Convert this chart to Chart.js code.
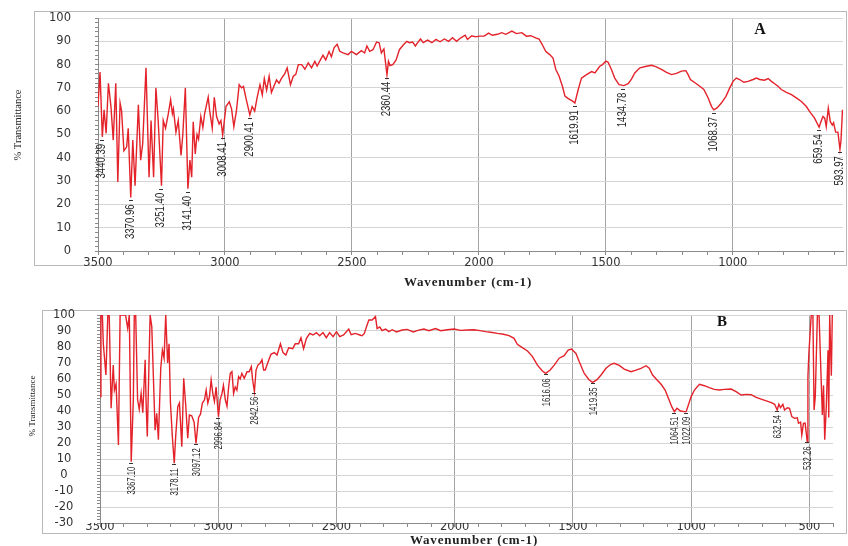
<!DOCTYPE html>
<html><head><meta charset="utf-8">
<script src="https://cdn.jsdelivr.net/npm/chart.js@4.4.1/dist/chart.umd.min.js"></script>
<style>
html,body{margin:0;padding:0;background:#fff;width:848px;height:546px;overflow:hidden;}
canvas{position:absolute;left:0;}
#cA{top:0;} #cB{top:296px;}
</style></head><body>
<canvas id="cA" width="848" height="296"></canvas>
<canvas id="cB" width="848" height="250"></canvas>
<script>
// ---------- Spectrum A ----------
const wavenumberA = [
 3500,3492,3483,3476,3468,3459,3449,3440,3430,3422,
 3413,3407,3398,3387,3381,3371,3363,3354,3341,3332,
 3324,3311,3299,3291,3281,3272,3263,3250,3243,3234,
 3223,3214,3207,3203,3193,3184,3173,3166,3156,3146,
 3138,3131,3125,3117,3110,3104,3095,3087,3080,3066,
 3060,3050,3042,3033,3023,3016,3009,2996,2983,2974,
 2965,2955,2944,2935,2927,2916,2902,2893,2883,2873,
 2862,2853,2845,2836,2826,2817,2808,2797,2787,2778,
 2765,2755,2742,2731,2721,2711,2698,2685,2672,2659,
 2646,2637,2624,2614,2603,2590,2581,2570,2558,2548,
 2535,2515,2502,2482,2463,2450,2441,2430,2417,2403,
 2393,2384,2374,2362,2356,2350,2339,2326,2313,2297,
 2284,2274,2261,2250,2241,2230,2219,2202,2185,2169,
 2153,2136,2119,2104,2088,2071,2054,2045,2028,2012,
 1999,1979,1962,1947,1927,1910,1894,1870,1852,1831,
 1813,1796,1776,1763,1750,1737,1721,1708,1697,1684,
 1671,1661,1648,1632,1622,1609,1596,1576,1556,1543,
 1524,1513,1500,1491,1478,1465,1448,1429,1412,1399,
 1386,1366,1340,1320,1301,1281,1261,1241,1222,1202,
 1185,1176,1167,1149,1130,1114,1097,1084,1075,1062,
 1045,1027,1012,999,986,973,957,940,920,907,
 894,875,861,848,835,822,809,789,769,750,
 730,711,695,678,660,655,645,638,632,624,
 616,608,603,595,586,578,574,568];
const transmittanceA = [
 62,76.8,49,60.6,50.5,72,62,47.6,72,29.6,
 63.5,60,43,44.7,52.7,23,47.6,28,62.8,39,
 46,78.6,31.7,56,31.7,70,56,28,56,52.7,
 59,65,59,61,51,56,41,50,70,26.7,
 39,31.7,55.5,41.7,50,48,57.7,53,59,66,
 60,52.7,66,57.7,54.5,56,49.8,62,64,61,
 53.4,60,71.4,70,70.6,65,58.4,62,60,66,
 71.4,67,74,69,75,68,70.5,73.4,72,74,
 76,78.6,71.4,75,75.8,80,80,78,80.7,78.6,
 81.4,79.4,82,84,82,85.6,83.4,87.3,88.7,85.7,
 85,84.3,85.7,84.3,86,85,88,85.7,86.4,89.7,
 89.4,85,86.7,75.7,81.4,79.6,80,82,86.4,88.5,
 90,89.4,89.7,88,89.4,91,89.4,90.5,89.4,90.8,
 89.8,91,90,91.5,90,91.5,92.6,90.8,92.4,91.9,
 92.2,92.2,93.5,92.6,93,93.7,93,94.4,93.3,93.7,
 92.2,92.4,91.5,91,88.5,85.7,84.3,82.8,77.9,75,
 70.7,66.5,65.4,64.4,63.5,69.2,74.2,75.7,77,76.4,
 79.3,80,81.5,81,77.9,74.2,71.4,71,71.8,73.8,
 76.4,78.6,79.3,79.7,79,77.9,76.7,75.7,76.2,77.2,
 77.4,75.7,73.6,72.2,70.7,69.3,65.7,62.1,60.6,61.4,
 63.5,66.4,70,72.8,74.2,73.6,72.4,72.8,73.6,74.2,
 73.6,73.3,74,72.8,71.8,70.7,69.3,68.1,67.1,65.7,
 64.2,62.1,59.5,57,53.1,54.8,57.7,57,53.4,61.3,
 55.5,54,55,51,51,43.7,47.3,60.6];
const peakTextA = ['3440.39','3370.96','3251.40','3141.40','3008.41','2900.41','2360.44','1619.91','1434.78','1068.37','659.54','593.97'];
const peakPosA  = [3483,3371,3250,3146,3009,2902,2362,1622,1432,1075,660,578];
const peakTA    = [49,23,28,26.7,49.8,58.4,75.7,63.5,71,60.6,53.1,43.7];
const yTicksA = [0,100,10];

// ---------- Spectrum B ----------
const wavenumberB = [
 3500,3496,3490,3486,3475,3467,3461,3453,3444,3439,
 3432,3422,3415,3408,3401,3392,3383,3376,3368,3359,
 3355,3349,3341,3334,3326,3319,3309,3305,3300,3288,
 3281,3267,3260,3253,3243,3236,3229,3222,3214,3208,
 3202,3194,3186,3180,3171,3164,3154,3146,3137,3129,
 3122,3112,3102,3094,3083,3075,3067,3058,3051,3044,
 3037,3030,3023,3016,3009,2999,2992,2984,2978,2970,
 2963,2956,2949,2942,2935,2928,2921,2914,2907,2900,
 2890,2878,2869,2860,2855,2847,2840,2832,2822,2815,
 2808,2801,2794,2777,2763,2751,2737,2726,2714,2702,
 2685,2674,2660,2650,2639,2627,2613,2599,2585,2571,
 2557,2543,2529,2514,2500,2486,2470,2448,2438,2420,
 2401,2392,2382,2373,2363,2349,2335,2328,2317,2307,
 2292,2278,2264,2246,2222,2201,2175,2156,2130,2109,
 2081,2059,2031,2003,1975,1946,1918,1893,1869,1848,
 1819,1794,1770,1749,1735,1714,1692,1671,1650,1629,
 1615,1596,1579,1558,1537,1520,1506,1487,1473,1452,
 1431,1417,1399,1381,1360,1339,1325,1304,1283,1254,
 1233,1212,1191,1177,1163,1144,1127,1110,1096,1082,
 1071,1060,1045,1029,1021,1000,986,965,944,923,
 902,880,859,831,810,788,767,746,725,704,
 682,661,647,636,629,622,612,605,593,584,
 574,563,551,546,537,532,525,518,509,506,
 502,496,492,485,480,475,466,459,449,445,
 440,435,428,421,418,414,407,403];
const transmittanceB = [
 49,100,100,82,62.5,100,100,41.7,68.7,53,
 57,18.7,100,100,100,100,91.7,100,8.3,47,
 100,100,47,41,51,39,72,45,24,100,
 92.7,28,38.5,22,67,78,73,100,70,82,
 45,24,7.3,24,42.7,45,17.7,60.4,42.7,23,
 37.5,37,33,19.8,36,38,45,47,53,45,
 49,59.4,51,46,55,36.5,47,51,56,47,
 43,55,63.5,64.6,51,55,53,61.5,60,63.5,
 60.4,64.5,64.5,67.7,60,52,65.6,68.7,70,72,
 65.6,65.6,68.7,75.4,76.5,75,82,76.5,75,79.5,
 79,82,82,85.8,79,85.4,88.5,87.5,89,87,
 89,85.8,89,86.5,89.6,86.5,87.5,91.2,87.7,88.5,
 87.5,87,88.5,92.7,96.9,96.9,99,91.5,92.5,90.2,
 91.2,89.6,90.8,89.4,90.6,91,89.4,90.4,91.2,90.2,
 91.5,90.2,90.8,91.2,90.4,90.6,90.8,90.2,89.6,89.2,
 88.5,88,87.1,85.4,81.7,79.6,77.5,74,68.7,65,
 63.5,65.6,68.7,73,74.6,78,78.7,76,70.8,63.5,
 59.4,57.9,59.4,62.5,66.7,69.2,69.8,68.5,66.2,64.6,
 65.5,66.7,68.3,66.7,62.5,59.4,56.7,53.1,47.9,42.7,
 39.6,41.7,40,39.6,39.6,49,53.1,56.7,55.8,54.6,
 53.5,53.1,53.5,53.7,52.1,50,50.4,50.2,48.5,47.4,
 46.3,45.2,44.2,40.6,44.2,42.1,44.2,40.6,42,41.7,
 36.5,35.4,35.8,32.3,33,25,32.3,32.5,21,61.5,
 76,90.6,100,100,40.6,48.8,100,100,55,37.5,
 56,22,44,78,36,100,62,100];
const peakTextB = ['3367.10','3178.11','3097.12','2996.84','2842.56','1616.06','1419.35','1064.51','1022.09','632.54','532.26'];
const peakPosB  = [3368,3186,3094,2999,2847,1615,1417,1071,1021,636,509];
const peakTB    = [8.3,7.3,19.8,36.5,52,63.5,57.9,39.6,39.6,40.6,21];
const yTicksB = [-30,100,10];

const xTitle = 'Wavenumber (cm-1)';
const yTitle = '% Transmittance';

// ---------- drawing helpers ----------
const decor = {
  id: 'decor',
  beforeDraw(chart, args, o) {
    const ctx = chart.ctx;
    ctx.save();
    ctx.fillStyle = '#fff';
    ctx.fillRect(0, 0, chart.width, chart.height);
    ctx.strokeStyle = '#b8b8b8';
    ctx.lineWidth = 1;
    ctx.strokeRect(o.frame[0] + 0.5, o.frame[1] + 0.5, o.frame[2], o.frame[3]);
    ctx.restore();
  },
  afterDatasetsDraw(chart, args, o) {
    const ctx = chart.ctx, xs = chart.scales.x, ys = chart.scales.y;
    ctx.save();
    ctx.fillStyle = '#2a2a2a';
    ctx.strokeStyle = '#333';
    ctx.lineWidth = 1;
    ctx.font = o.peakFont;
    o.peakPos.forEach((wn, i) => {
      const px = Math.round(xs.getPixelForValue(wn));
      const py = ys.getPixelForValue(o.peakT[i]);
      const dy = Math.round(py + o.dashDy) + 0.5;
      ctx.beginPath();
      ctx.moveTo(px - 2, dy);
      ctx.lineTo(px + 2, dy);
      ctx.stroke();
      ctx.save();
      ctx.translate(px + o.textDx, py + o.textDy);
      ctx.rotate(-Math.PI / 2);
      ctx.scale(o.squeeze, 1);
      ctx.textAlign = 'right';
      ctx.textBaseline = 'middle';
      ctx.fillText(o.peakText[i], 0, 0);
      ctx.restore();
    });
    ctx.restore();
  },
  afterDraw(chart, args, o) {
    const ctx = chart.ctx, ys = chart.scales.y;
    ctx.save();
    // y tick labels
    ctx.fillStyle = '#333';
    ctx.font = '11.5px "DejaVu Sans", Verdana, sans-serif';
    ctx.textAlign = o.yLabelAlign;
    ctx.textBaseline = 'middle';
    for (let v = o.yTicks[0]; v <= o.yTicks[1]; v += o.yTicks[2]) {
      ctx.fillText(String(v), o.yLabelX, ys.getPixelForValue(v));
    }
    // titles
    ctx.fillStyle = '#222';
    ctx.textAlign = 'center';
    ctx.font = o.xTitleFont;
    try { ctx.letterSpacing = o.xTitleSpacing; } catch (e) {}
    ctx.fillText(xTitle, o.xTitlePos[0], o.xTitlePos[1]);
    try { ctx.letterSpacing = '0px'; } catch (e) {}
    ctx.save();
    ctx.translate(o.yTitlePos[0], o.yTitlePos[1]);
    ctx.rotate(-Math.PI / 2);
    ctx.font = o.yTitleFont;
    ctx.fillText(yTitle, 0, 0);
    ctx.restore();
    ctx.fillStyle = '#111';
    ctx.font = o.letterFont;
    ctx.fillText(o.letter, o.letterPos[0], o.letterPos[1]);
    ctx.restore();
  }
};

function zeroPad(s) { s.paddingTop = 0; s.paddingBottom = 0; s.paddingLeft = 0; s.paddingRight = 0; }

function makeChart(id, wn, tr, xMin, yT, cfg) {
  const pts = wn.map((w, i) => ({ x: w, y: tr[i] }));
  const tickFont = { family: '"DejaVu Sans", Verdana, sans-serif', size: 11.5 };
  cfg.decor.yTicks = yT;
  return new Chart(document.getElementById(id), {
    type: 'line',
    data: { datasets: [{
      data: pts, borderColor: '#e3222a', borderWidth: 1.4,
      pointRadius: 0, tension: 0, fill: false
    }]},
    plugins: [decor],
    options: {
      responsive: false, animation: false, devicePixelRatio: 1,
      layout: { padding: cfg.padding },
      plugins: { legend: { display: false }, tooltip: { enabled: false }, decor: cfg.decor },
      scales: {
        x: {
          type: 'linear', reverse: true, min: xMin, max: 3500,
          ticks: {
            stepSize: 100, includeBounds: false, autoSkip: false, maxRotation: 0,
            padding: cfg.xPad, color: '#333', font: tickFont,
            callback: v => (Math.round(v) % 500 === 0 ? String(v) : '')
          },
          grid: {
            color: c => (c.tick && Math.round(c.tick.value) % 500 === 0 ? '#a3a3a3' : 'rgba(0,0,0,0)'),
            tickColor: '#8a8a8a', tickLength: 4, lineWidth: 1
          },
          border: { color: '#8a8a8a', width: 1 },
          afterFit: s => { s.height = cfg.xHeight; zeroPad(s); }
        },
        y: {
          min: yT[0], max: yT[1],
          ticks: { stepSize: 2, autoSkip: false, display: false },
          grid: {
            color: c => (c.tick && Math.round(c.tick.value) % yT[2] === 0 ? '#d5d5d5' : 'rgba(0,0,0,0)'),
            tickColor: '#8a8a8a', tickLength: 3, lineWidth: 1
          },
          border: { color: '#8a8a8a', width: 1 },
          afterFit: s => { s.width = cfg.yWidth; zeroPad(s); }
        }
      }
    }
  });
}

makeChart('cA', wavenumberA, transmittanceA, 566, yTicksA, {
  padding: { left: 0, top: 18, right: 5, bottom: 0 },
  xHeight: 45, yWidth: 98, xPad: 1,
  decor: {
    frame: [34, 11, 812, 254],
    yLabelAlign: 'right', yLabelX: 71,
    peakText: peakTextA, peakPos: peakPosA, peakT: peakTA,
    peakFont: '12px "Liberation Sans", Arial, sans-serif', squeeze: 0.8,
    dashDy: 3, textDy: 7, textDx: 0,
    xTitleFont: 'bold 13px "Liberation Serif", "Times New Roman", serif', xTitleSpacing: '0.8px',
    xTitlePos: [468, 283],
    yTitleFont: '10.5px "Liberation Serif", "Times New Roman", serif', yTitlePos: [18, 125],
    letter: 'A', letterFont: 'bold 16px "Liberation Serif", serif', letterPos: [760, 30]
  }
});

makeChart('cB', wavenumberB, transmittanceB, 400, yTicksB, {
  padding: { left: 0, top: 19, right: 15, bottom: 0 },
  xHeight: 23, yWidth: 100, xPad: -7,
  decor: {
    frame: [42, 14, 804, 223],
    yLabelAlign: 'center', yLabelX: 64,
    peakText: peakTextB, peakPos: peakPosB, peakT: peakTB,
    peakFont: '11px "Liberation Sans", Arial, sans-serif', squeeze: 0.7,
    dashDy: 1, textDy: 5, textDx: 1,
    xTitleFont: 'bold 13px "Liberation Serif", "Times New Roman", serif', xTitleSpacing: '0.8px',
    xTitlePos: [474, 245],
    yTitleFont: '9px "Liberation Serif", "Times New Roman", serif', yTitlePos: [33, 110],
    letter: 'B', letterFont: 'bold 15px "Liberation Serif", serif', letterPos: [722, 26]
  }
});
</script>
</body></html>
